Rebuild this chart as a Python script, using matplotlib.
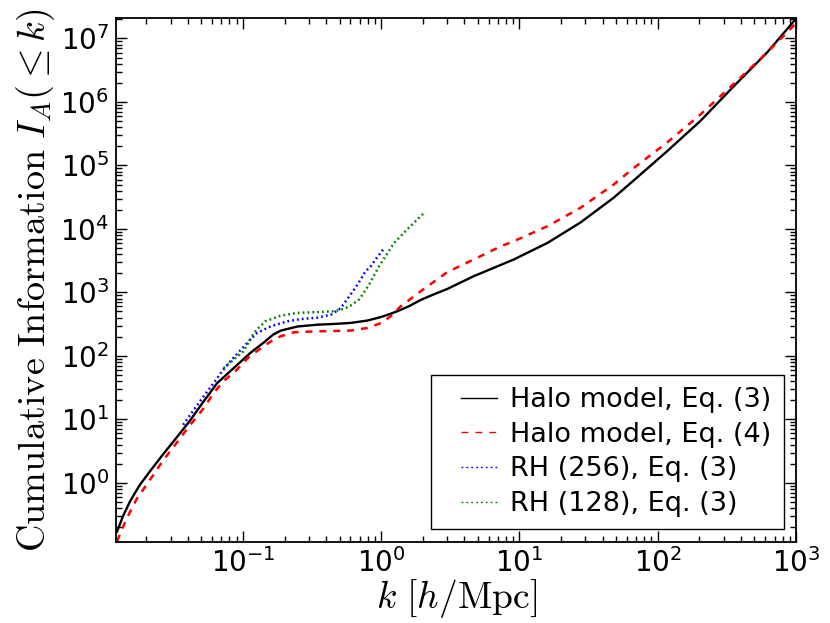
import numpy as np
import matplotlib
matplotlib.use('Agg')
import matplotlib.pyplot as plt
from matplotlib.lines import Line2D
from matplotlib.legend_handler import HandlerLine2D

# Halo model, Eq. (3)
k_halo3 = [0.0123, 0.0136, 0.0152, 0.0165, 0.018, 0.0212, 0.0263, 0.033, 0.0411,
           0.05, 0.065, 0.0857, 0.113, 0.142, 0.165, 0.188, 0.248, 0.346, 0.457,
           0.6, 0.795, 1.0, 1.17, 1.31, 1.6, 1.93, 2.4, 3.0, 4.67, 7.3, 9.1,
           15.9, 27.6, 48, 67, 117, 203, 352, 617, 1000]
I_halo3 = [0.17, 0.3, 0.5, 0.68, 0.93, 1.5, 2.76, 5.1, 9.3,
           17, 37, 64, 111, 163, 215, 250, 290, 310, 318,
           330, 360, 410, 460, 505, 610, 760, 930, 1130, 1800, 2700, 3300,
           6000, 12600, 31000, 58000, 1.68e5, 5e5, 1.74e6, 6e6, 2.05e7]

# Halo model, Eq. (4)
k_halo4 = [0.0123, 0.0144, 0.0171, 0.0212, 0.0263, 0.033, 0.0411, 0.0521,
           0.0614, 0.0725, 0.088, 0.11, 0.141, 0.165, 0.188, 0.235, 0.328,
           0.6, 0.795, 1.0, 1.17, 1.38, 1.93, 3.0, 4.67, 7.3, 9.1, 15.9, 27.6,
           48, 67, 117, 203, 352, 617, 907, 1000]
I_halo4 = [0.12, 0.27, 0.56, 1.1, 2.2, 4.2, 7.9, 15,
           26, 40, 57, 95, 141, 178, 204, 235, 243,
           250, 275, 330, 420, 600, 1040, 2080, 3300, 5300, 6400, 11000, 21500,
           50000, 91000, 2.3e5, 6.3e5, 1.9e6, 6e6, 1.4e7, 1.75e7]

# RH (256), Eq. (3)
k_rh256 = [0.037, 0.044, 0.052, 0.0614, 0.0706, 0.083, 0.0985, 0.113, 0.127,
           0.159, 0.21, 0.262, 0.346, 0.433, 0.47, 0.51, 0.553, 0.6, 0.65,
           0.71, 0.77, 0.84, 0.91, 0.99, 1.06]
I_rh256 = [8.2, 14, 23, 37, 57, 87, 130, 180, 230,
           292, 350, 380, 400, 445, 500, 565, 720, 920, 1180,
           1590, 2150, 2570, 3300, 4200, 5100]

# RH (128), Eq. (3)
k_rh128 = [0.0725, 0.0857, 0.101, 0.121, 0.145, 0.188, 0.248, 0.346, 0.457,
           0.54, 0.6, 0.691, 0.732, 0.817, 0.964, 1.24, 1.59, 2.04]
I_rh128 = [64, 87, 118, 235, 350, 430, 475, 490, 505,
           550, 617, 770, 920, 1320, 2570, 6000, 10500, 17800]

# decade ticks shown on the axes
xtick_pos = [1e-1, 1e0, 1e1, 1e2, 1e3]
ytick_pos = [1e0, 1e1, 1e2, 1e3, 1e4, 1e5, 1e6, 1e7]

plt.rcParams['axes.unicode_minus'] = False
plt.rcParams['lines.scale_dashes'] = False

fig = plt.figure(figsize=(8.3, 6.23), dpi=100)
ax = fig.add_axes([0.1398, 0.1308, 0.8193, 0.8403])

ax.plot(k_halo3, I_halo3, color='black', linestyle='-', linewidth=1.7,
        label='Halo model, Eq. (3)')
ax.plot(k_halo4, I_halo4, color='red', linewidth=1.8, dashes=(5, 5),
        label='Halo model, Eq. (4)')
ax.plot(k_rh256, I_rh256, color='blue', linewidth=1.8, dashes=(1.3, 2.2),
        label='RH (256), Eq. (3)')
ax.plot(k_rh128, I_rh128, color='green', linewidth=1.8, dashes=(1.3, 2.2),
        label='RH (128), Eq. (3)')

ax.set(xscale='log', yscale='log')
ax.set_xticks(xtick_pos)
ax.set_yticks(ytick_pos)
ax.set(xlim=[0.0121, 1000], ylim=[0.119, 2.1e7])

ax.set_xlabel(r'$k\ [h/\mathrm{Mpc}]$', fontsize=27, math_fontfamily='cm',
              labelpad=-1)
ax.set_ylabel(r'$\mathrm{Cumulative\ Information}\ I_A(\leq k)$', fontsize=27.5,
              math_fontfamily='cm', labelpad=2)

ax.tick_params(which='both', direction='in', top=True, right=True,
               labelsize=20, width=1)
ax.tick_params(which='major', length=8, pad=5)
ax.tick_params(which='minor', length=4)
for s in ax.spines.values():
    s.set_linewidth(1.3)

leg = ax.legend(loc='lower right', fontsize=19.5, fancybox=False,
                edgecolor='black', framealpha=1, handlelength=2.0,
                handletextpad=0.48, labelspacing=0.32, borderpad=0.45,
                borderaxespad=0.45,
                handler_map={Line2D: HandlerLine2D(xpad=0.65)})
leg.get_frame().set_linewidth(1.0)
for line in leg.get_lines():
    line.set_linewidth(1.0)

fig.savefig('out.png', dpi=100)
